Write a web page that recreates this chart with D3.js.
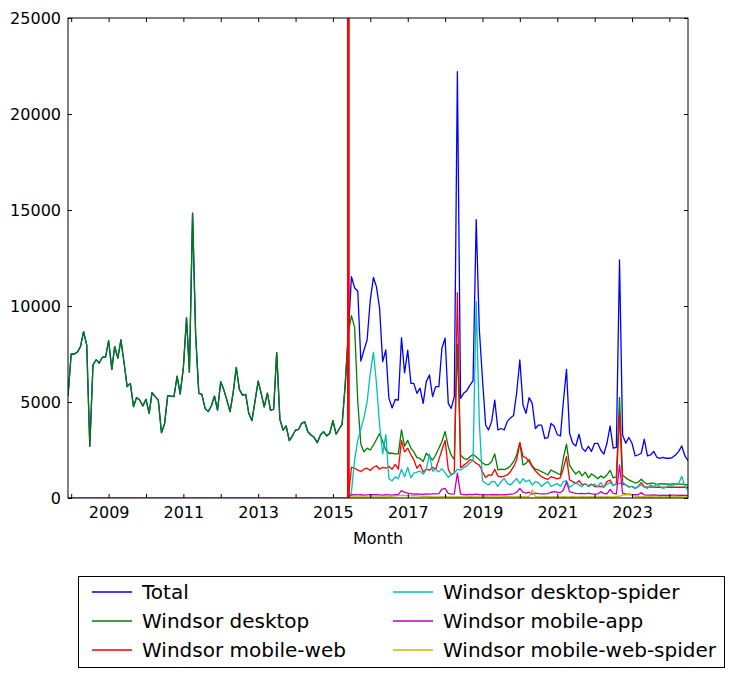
<!DOCTYPE html>
<html>
<head>
<meta charset="utf-8">
<script src="https://cdn.jsdelivr.net/npm/d3@7"></script>
<style>
  html, body { margin: 0; padding: 0; background: #fff; }
  svg text { font-family: "DejaVu Sans", sans-serif; }
</style>
</head>
<body>
<svg id="chart" width="735" height="679"></svg>
<script>
// ---------- data (monthly, Dec 2007 .. Jul 2024) ----------
const firstMonth = "2007-12";
const lastMonth = "2024-07";
const markerMonth = "2015-06";

const yTicks = [0, 5000, 10000, 15000, 20000, 25000];
const xTickYears = [2008,2009,2010,2011,2012,2013,2014,2015,2016,2017,2018,2019,2020,2021,2022,2023,2024];
const xLabelYears = [2009,2011,2013,2015,2017,2019,2021,2023];

const seriesNames = ["Total","Windsor desktop","Windsor mobile-web","Windsor desktop-spider","Windsor mobile-app","Windsor mobile-web-spider"];
const seriesColors = ["#0000ff","#008000","#ff0000","#00bfbf","#bf00bf","#bfbf00"];

const total = [
5300,7500,7500,7600,7880,8660,7970,2700,6930,7200,7030,7330,7330,8190,6700,7880,7290,8230,7030,5800,
5970,4760,5230,5100,4790,5140,4410,5490,5280,5100,3400,3850,5330,5310,5280,6350,5420,6790,9390,6550,
14830,8500,5450,5400,4670,4500,4790,5310,4580,6060,5620,5100,4500,5460,6800,5660,5360,5400,4410,4030,
5050,6090,5410,4750,5460,4580,4620,7570,4100,3540,3750,2990,3230,3540,3580,3890,3960,3450,3280,3160,
2880,3280,3450,3230,3370,4030,3330,3580,3850,5890,8600,
11530,10950,10770,7130,7710,8230,10310,11490,11010,9880,7100,7710,5200,4690,5130,5100,8350,6520,7700,5970,
5970,5450,5720,4930,6060,6410,5280,5800,5800,7800,8330,4930,4670,5280,22200,5190,5450,5590,5880,6100,
14500,8800,6200,3800,3540,3990,5100,3540,3620,3540,3990,4170,4300,5470,7190,4840,4410,5230,4930,3620,
3800,3800,3100,3150,3880,3750,3300,3230,5000,6700,3370,2850,2710,3320,2600,2430,2690,2430,2850,2850,
2500,2290,2850,3750,2600,2640,12400,3280,2850,3150,2850,2190,2240,2330,3060,2190,2240,2430,2120,2070,
2120,2070,2070,2120,2240,2430,2710,2190,1940
];

const desktop = [
5300,7500,7500,7600,7880,8660,7970,2700,6930,7200,7030,7330,7330,8190,6700,7880,7290,8230,7030,5800,
5970,4760,5230,5100,4790,5140,4410,5490,5280,5100,3400,3850,5330,5310,5280,6350,5420,6790,9390,6550,
14830,8500,5450,5400,4670,4500,4790,5310,4580,6060,5620,5100,4500,5460,6800,5660,5360,5400,4410,4030,
5050,6090,5410,4750,5460,4580,4620,7570,4100,3540,3750,2990,3230,3540,3580,3890,3960,3450,3280,3160,
2880,3280,3450,3230,3370,4030,3330,3580,3850,5890,8600,
9500,8900,5000,2800,2400,2600,2500,2750,3050,3350,2950,2500,2330,2330,2300,2300,3550,2700,3000,2600,
2400,2100,2060,1900,2330,2150,1980,2240,2590,2940,3460,2670,2240,2000,8000,2240,2070,2000,2150,2270,
2150,2000,1840,1720,1750,1900,2300,1460,1500,1480,1540,1670,1890,2240,2880,1720,1800,2010,1670,1500,
1460,1370,1290,1200,1460,1370,1290,1200,2070,2810,1700,1450,1250,1400,1150,1350,1050,1250,1150,1000,
1150,1050,1200,1440,1050,1100,5240,1180,1050,940,870,780,820,980,820,720,780,770,700,750,
730,730,720,730,730,720,720,700,680
];

const mobileWeb = [
0,0,0,0,0,0,0,0,0,0,0,0,0,
0,0,0,0,0,0,0,0,0,0,0,0,0,
0,0,0,0,0,0,0,0,0,0,0,0,0,
0,0,0,0,0,0,0,0,0,0,0,0,0,
0,0,0,0,0,0,0,0,0,0,0,0,0,
0,0,0,0,0,0,0,0,0,0,0,0,0,
0,0,0,0,0,0,0,0,0,0,0,0,0,
1600,1550,1450,1380,1500,1550,1430,1600,1680,1500,1600,1550,1650,1500,1750,1500,3000,2400,2600,2250,
2000,1550,1750,1350,1500,1450,1600,1500,2000,2500,3000,1500,1200,1300,10700,1580,1700,1820,2000,1960,
1800,1720,1370,1060,1200,1180,1500,1140,1100,1140,1200,1370,1630,1980,2880,2150,2100,1890,1630,1420,
1250,1110,1020,970,1110,1060,1000,1060,1540,2150,940,850,760,900,700,720,640,720,600,600,
610,560,850,940,650,740,4400,720,680,590,590,500,590,800,590,560,580,570,560,560,
550,560,560,550,560,560,560,560,560
];

const desktopSpider = [
0,0,0,0,0,0,0,0,0,0,0,0,0,
0,0,0,0,0,0,0,0,0,0,0,0,0,
0,0,0,0,0,0,0,0,0,0,0,0,0,
0,0,0,0,0,0,0,0,0,0,0,0,0,
0,0,0,0,0,0,0,0,0,0,0,0,0,
0,0,0,0,0,0,0,0,0,0,0,0,0,
0,0,0,0,0,0,0,0,0,0,0,0,0,
300,2000,3000,3600,4200,5000,6500,7600,6000,3800,2300,3300,1000,900,1100,1000,1500,1100,1600,1050,
1300,1350,1400,1250,1470,2280,1400,1500,1360,1530,1320,1070,1240,1290,1500,1450,1580,1660,1840,1950,
10230,4000,900,770,680,850,850,600,850,1020,760,680,850,1020,760,1000,850,940,680,850,
800,600,750,850,600,680,750,600,850,900,560,680,800,680,590,760,590,680,720,590,
800,590,700,800,680,720,760,850,680,560,620,500,590,680,560,500,680,590,720,590,
500,560,680,590,760,760,1130,600,400
];

const mobileApp = [
0,0,0,0,0,0,0,0,0,0,0,0,0,
0,0,0,0,0,0,0,0,0,0,0,0,0,
0,0,0,0,0,0,0,0,0,0,0,0,0,
0,0,0,0,0,0,0,0,0,0,0,0,0,
0,0,0,0,0,0,0,0,0,0,0,0,0,
0,0,0,0,0,0,0,0,0,0,0,0,0,
0,0,0,0,0,0,0,0,0,0,0,0,0,
180,170,160,170,150,160,170,180,170,160,150,170,160,150,170,180,380,300,250,230,
200,210,200,190,210,200,220,210,230,460,500,240,200,220,1300,200,180,170,190,180,
200,180,160,170,160,170,180,170,160,170,180,200,220,300,500,300,250,300,200,250,
230,220,210,230,300,330,300,280,420,850,330,280,240,230,240,210,250,210,200,210,
330,240,210,450,240,210,1720,240,210,200,170,170,170,280,160,150,150,160,150,140,
150,140,140,150,150,140,150,140,140
];

const mobileWebSpider = [
0,0,0,0,0,0,0,0,0,0,0,0,0,
0,0,0,0,0,0,0,0,0,0,0,0,0,
0,0,0,0,0,0,0,0,0,0,0,0,0,
0,0,0,0,0,0,0,0,0,0,0,0,0,
0,0,0,0,0,0,0,0,0,0,0,0,0,
0,0,0,0,0,0,0,0,0,0,0,0,0,
0,0,0,0,0,0,0,0,0,0,0,0,0,
60,60,60,60,60,60,60,60,60,60,60,60,70,90,110,120,130,130,120,110,
120,110,100,90,80,70,60,60,60,70,70,60,60,60,70,60,60,60,70,60,
60,60,60,70,60,60,60,60,60,70,70,70,60,70,80,70,60,80,420,80,
60,60,70,60,60,70,60,60,70,60,60,70,60,60,70,60,60,70,60,60,
70,60,70,60,60,80,90,150,170,180,160,80,70,60,70,60,70,60,60,70,
60,70,60,60,70,70,60,60,60
];

const seriesValues = [total, desktop, mobileWeb, desktopSpider, mobileApp, mobileWebSpider];

// ---------- layout ----------
const svg = d3.select("#chart");
const L = 68, R = 688, T = 18, B = 498;
const parseMonth = d3.timeParse("%Y-%m");
const months = d3.timeMonth.range(parseMonth(firstMonth), d3.timeMonth.offset(parseMonth(lastMonth), 1));

const x = d3.scaleTime().domain([parseMonth(firstMonth), parseMonth(lastMonth)]).range([L, R]);
const y = d3.scaleLinear().domain([0, 25000]).range([B, T]);

const tickDates = xTickYears.map(yr => new Date(yr, 0, 1));
const fmtX = d => xLabelYears.includes(d.getFullYear()) ? String(d.getFullYear()) : "";

// clip
svg.append("defs").append("clipPath").attr("id", "clip")
  .append("rect").attr("x", L).attr("y", T).attr("width", R - L).attr("height", B - T);

// lines
const line = d3.line().x((d, i) => x(months[i])).y(d => y(d));
const g = svg.append("g").attr("clip-path", "url(#clip)");
seriesValues.forEach((vals, k) => {
  g.append("path").datum(vals)
    .attr("fill", "none")
    .attr("stroke", seriesColors[k])
    .attr("stroke-width", 1.3)
    .attr("stroke-linejoin", "round")
    .attr("d", line);
});

// marker line
g.append("line")
  .attr("x1", x(parseMonth(markerMonth))).attr("x2", x(parseMonth(markerMonth)))
  .attr("y1", T).attr("y2", B)
  .attr("stroke", "#ff0000").attr("stroke-width", 2.8);

// axes
const axB = d3.axisBottom(x).tickValues(tickDates).tickFormat(fmtX).tickSize(-4).tickPadding(9);
const axT = d3.axisTop(x).tickValues(tickDates).tickFormat("").tickSize(-4);
const axL = d3.axisLeft(y).tickValues(yTicks).tickFormat(d3.format("d")).tickSize(-4).tickPadding(7);
const axR = d3.axisRight(y).tickValues(yTicks).tickFormat("").tickSize(-4);

function style(sel) {
  sel.select(".domain").remove();
  sel.selectAll("line").attr("stroke", "#000").attr("stroke-width", 1);
  sel.selectAll("text").attr("fill", "#000").style("font-size", "16px").style("font-family", "DejaVu Sans, sans-serif");
}
svg.append("g").attr("transform", `translate(0,${B})`).call(axB).call(style);
svg.append("g").attr("transform", `translate(0,${T})`).call(axT).call(style);
svg.append("g").attr("transform", `translate(${L},0)`).call(axL).call(style);
svg.append("g").attr("transform", `translate(${R},0)`).call(axR).call(style);

// frame
svg.append("rect").attr("x", L).attr("y", T).attr("width", R - L).attr("height", B - T)
  .attr("fill", "none").attr("stroke", "#000").attr("stroke-width", 1);

// x label
svg.append("text").attr("x", (L + R) / 2).attr("y", 544)
  .attr("text-anchor", "middle").style("font-size", "16px").text("Month");

// legend
const lg = svg.append("g");
lg.append("rect").attr("x", 78.5).attr("y", 576.5).attr("width", 646).attr("height", 91)
  .attr("fill", "#fff").attr("stroke", "#000").attr("stroke-width", 1);
const colX = [92, 393];
const rowY = [592, 621, 650];
seriesNames.forEach((name, k) => {
  const c = Math.floor(k / 3), r = k % 3;
  lg.append("line").attr("x1", colX[c]).attr("x2", colX[c] + 40)
    .attr("y1", rowY[r]).attr("y2", rowY[r])
    .attr("stroke", seriesColors[k]).attr("stroke-width", 1.3);
  lg.append("text").attr("x", colX[c] + 50).attr("y", rowY[r] + 7)
    .style("font-size", "20px").text(name);
});
</script>
</body>
</html>
